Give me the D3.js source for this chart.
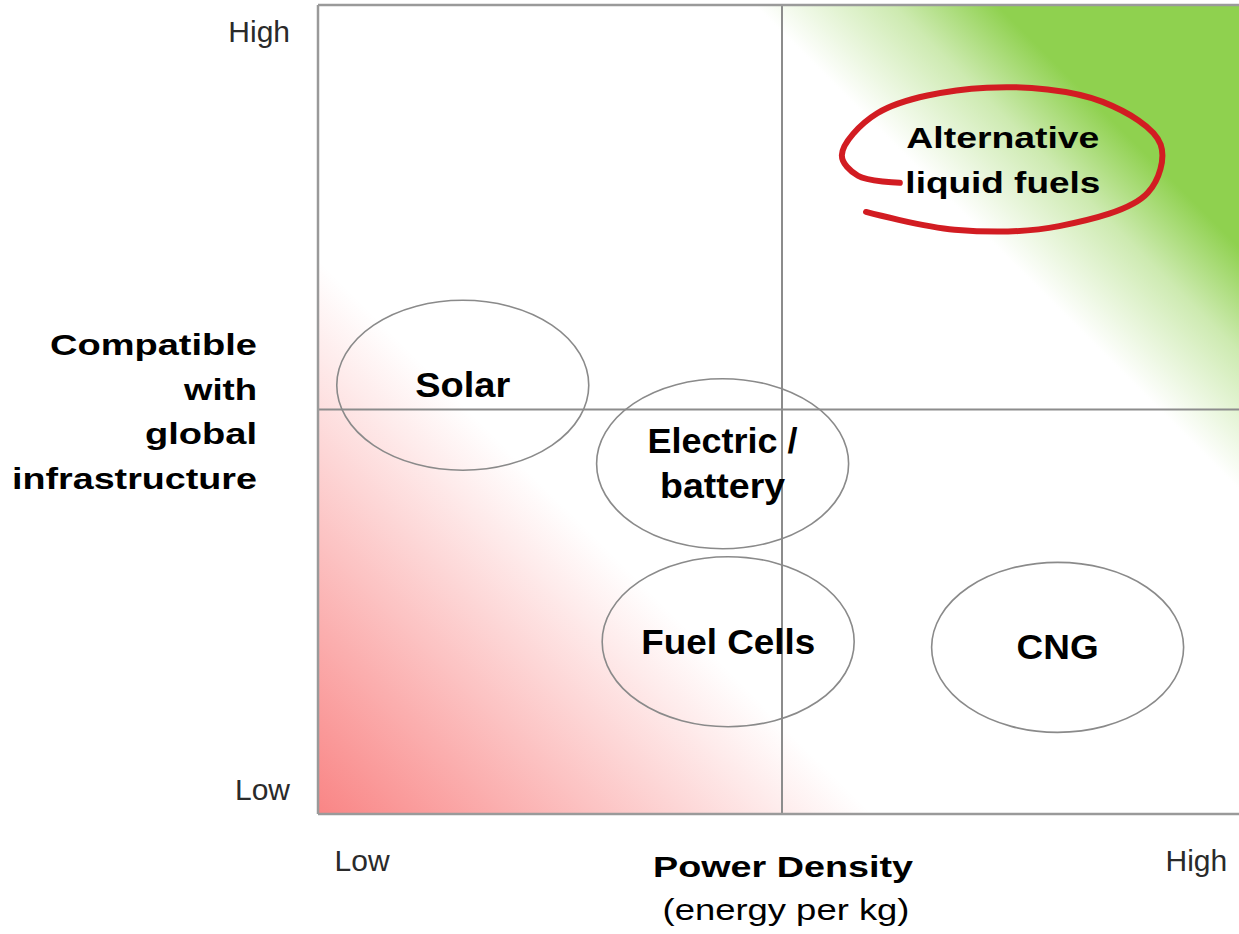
<!DOCTYPE html>
<html>
<head>
<meta charset="utf-8">
<script src="https://d3js.org/d3.v7.min.js"></script>
<style>
  body { margin: 0; background: #fff; }
  text { font-family: "Liberation Sans", Arial, sans-serif; }
</style>
</head>
<body>
<div id="vis"></div>
<script>
  // technologies placed on the matrix (0 = low, 100 = high)
  var techLines = [["Solar"], ["Electric /", "battery"], ["Fuel Cells"], ["CNG"], ["Alternative", "liquid fuels"]]
  var powerDensity = [15.6, 43.6, 44.2, 79.7, 73.8]
  var compatibility = [53.0, 43.3, 21.3, 20.6, 81.0]
  var highlighted = [false, false, false, false, true]

  // axis ticks and titles
  var xTickValues = [4.7, 94.6]
  var xTickLabels = ["Low", "High"]
  var yTickValues = [3, 96.7]
  var yTickLabels = ["Low", "High"]
  var yTitle = ["Compatible", "with", "global", "infrastructure"]
  var xTitle = ["Power Density", "(energy per kg)"]

  // measured text widths (the slide text is stretched sideways)
  var lineWidths = {
    "Solar": 95, "Electric /": 150, "battery": 125, "Fuel Cells": 174, "CNG": 82,
    "Alternative": 193, "liquid fuels": 195,
    "Compatible": 207, "with": 73, "global": 112, "infrastructure": 245,
    "Power Density": 260, "(energy per kg)": 247
  }

  var width = 1239
  var height = 934
  var plot = {left: 318, right: 1246, top: 5, bottom: 814}

  var svg = d3.select("#vis")
    .append("svg")
    .attr("width", width)
    .attr("height", height)

  var x = d3.scaleLinear().domain([0, 100]).range([plot.left, plot.right])
  var y = d3.scaleLinear().domain([0, 100]).range([plot.bottom, plot.top])

  var defs = svg.append("defs")

  // diagonal background: red at low/low corner, green at high/high corner
  var L = ((width - x(0)) + (y(0) - y(100))) / 2
  var grad = defs.append("linearGradient")
    .attr("id", "bg")
    .attr("gradientUnits", "userSpaceOnUse")
    .attr("x1", x(0)).attr("y1", y(0))
    .attr("x2", x(0) + L).attr("y2", y(0) - L)
  var stops = [[0, "#f98585"], [0.32, "#ffffff"], [0.72, "#ffffff"], [0.8, "#cdeab0"], [0.86, "#8fd14f"], [1, "#8fd14f"]]
  stops.forEach(function(s) {
    grad.append("stop").attr("offset", s[0]).attr("stop-color", s[1])
  })

  svg.append("rect")
    .attr("x", x(0))
    .attr("y", y(100))
    .attr("width", width - x(0))
    .attr("height", y(0) - y(100))
    .attr("fill", "url(#bg)")

  // quadrant lines
  svg.append("line")
    .attr("x1", x(50)).attr("x2", x(50))
    .attr("y1", y(100)).attr("y2", y(0))
    .attr("stroke", "#8c8c8c").attr("stroke-width", 2)
  svg.append("line")
    .attr("x1", x(0)).attr("x2", width)
    .attr("y1", y(50)).attr("y2", y(50))
    .attr("stroke", "#8c8c8c").attr("stroke-width", 2)

  // frame
  var frame = svg.append("g").attr("stroke", "#9a9a9a").attr("stroke-width", 2.5)
  frame.append("line").attr("x1", x(0)).attr("x2", x(0)).attr("y1", y(100)).attr("y2", y(0))
  frame.append("line").attr("x1", x(0)).attr("x2", width).attr("y1", y(100)).attr("y2", y(100))
  frame.append("line").attr("x1", x(0)).attr("x2", width).attr("y1", y(0)).attr("y2", y(0))

  // axes with Low / High labels
  var xAxis = svg.append("g")
    .attr("transform", "translate(0," + y(0) + ")")
    .call(d3.axisBottom(x).tickValues(xTickValues).tickFormat(function(d, i) { return xTickLabels[i] }).tickSize(0).tickPadding(36))
  xAxis.select(".domain").remove()

  var yAxis = svg.append("g")
    .attr("transform", "translate(" + x(0) + ",0)")
    .call(d3.axisLeft(y).tickValues(yTickValues).tickFormat(function(d, i) { return yTickLabels[i] }).tickSize(0).tickPadding(28))
  yAxis.select(".domain").remove()

  svg.selectAll(".tick text")
    .attr("font-family", "'Liberation Sans', Arial, sans-serif")
    .attr("font-size", 30)
    .attr("fill", "#2a2a2a")

  // technology ellipses
  var tech = techLines.map(function(lines, i) {
    return {lines: lines, px: powerDensity[i], cy: compatibility[i], hi: highlighted[i]}
  })

  var groups = svg.selectAll(".tech")
    .data(tech)
    .enter()
    .append("g")
    .attr("class", "tech")
    .attr("transform", function(d) { return "translate(" + x(d.px) + "," + y(d.cy) + ")" })

  groups.filter(function(d) { return !d.hi })
    .append("ellipse")
    .attr("rx", 126)
    .attr("ry", 85)
    .attr("fill", "none")
    .attr("stroke", "#8a8a8a")
    .attr("stroke-width", 1.6)

  // hand-drawn red loop around the highlighted one
  var loop = [[-0.64, 0.34], [-0.90, 0.24], [-1.00, -0.05], [-0.78, -0.64], [-0.10, -1.00],
              [0.62, -0.80], [0.98, -0.20], [0.90, 0.48], [0.35, 0.95], [-0.30, 1.00], [-0.85, 0.75]]
  var loopLine = d3.line()
    .x(function(p) { return p[0] * 161 })
    .y(function(p) { return p[1] * 71 })
    .curve(d3.curveCatmullRom)

  groups.filter(function(d) { return d.hi })
    .append("path")
    .attr("d", loopLine(loop))
    .attr("fill", "none")
    .attr("stroke", "#d21c22")
    .attr("stroke-width", 6)
    .attr("stroke-linecap", "round")

  groups.each(function(d) {
    var g = d3.select(this)
    var n = d.lines.length
    d.lines.forEach(function(t, i) {
      g.append("text")
        .attr("x", 0)
        .attr("y", 12 - (n - 1) * 22.25 + i * 44.5)
        .attr("text-anchor", "middle")
        .attr("font-weight", "bold")
        .attr("font-size", d.hi ? 30 : 35)
        .attr("textLength", lineWidths[t])
        .attr("lengthAdjust", "spacingAndGlyphs")
        .attr("fill", "#000")
        .text(t)
    })
  })

  // y axis title
  yTitle.forEach(function(t, i) {
    svg.append("text")
      .attr("x", 257)
      .attr("y", y(50) - 54.5 + i * 44.5)
      .attr("text-anchor", "end")
      .attr("font-weight", "bold")
      .attr("font-size", 30)
      .attr("textLength", lineWidths[t])
      .attr("lengthAdjust", "spacingAndGlyphs")
      .text(t)
  })

  // x axis title
  xTitle.forEach(function(t, i) {
    svg.append("text")
      .attr("x", x(50) + 1 + i * 3)
      .attr("y", 877 + i * 43)
      .attr("text-anchor", "middle")
      .attr("font-weight", i == 0 ? "bold" : "normal")
      .attr("font-size", 30)
      .attr("textLength", lineWidths[t])
      .attr("lengthAdjust", "spacingAndGlyphs")
      .text(t)
  })
</script>
</body>
</html>
